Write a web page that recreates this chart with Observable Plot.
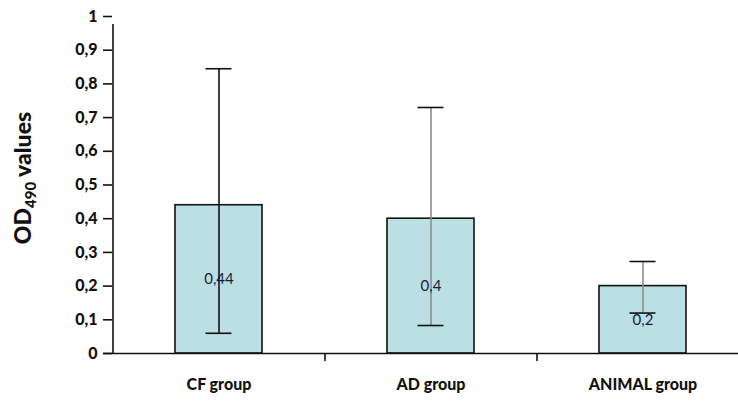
<!DOCTYPE html>
<html>
<head>
<meta charset="utf-8">
<script src="https://cdn.jsdelivr.net/npm/d3@7"></script>
<script src="https://cdn.jsdelivr.net/npm/@observablehq/plot@0.6"></script>
<style>
  html, body { margin: 0; padding: 0; background: #fff; }
</style>
</head>
<body>
<div id="chart"></div>
<script>
const categories = ["CF group", "AD group", "ANIMAL group"];
const means = [0.44, 0.4, 0.2];
const errLow = [0.06, 0.083, 0.12];
const errHigh = [0.845, 0.73, 0.273];
const valueLabels = ["0,44", "0,4", "0,2"];
const yTicks = [0, 0.1, 0.2, 0.3, 0.4, 0.5, 0.6, 0.7, 0.8, 0.9, 1];
const yTickLabels = ["0", "0,1", "0,2", "0,3", "0,4", "0,5", "0,6", "0,7", "0,8", "0,9", "1"];

const data = categories.map((c, i) => ({
  group: c, mean: means[i], lo: errLow[i], hi: errHigh[i], label: valueLabels[i]
}));

const FONT = "Lato, 'Open Sans', sans-serif";
const errStroke = d => d.group === categories[0] ? "#111" : "#8c8c8c";

const plot = Plot.plot({
  width: 738,
  height: 406,
  marginTop: 16,
  marginBottom: 53,
  marginLeft: 112,
  marginRight: 0,
  style: { fontFamily: FONT, background: "#fff", color: "#111" },
  x: { domain: categories, range: [112, 748], paddingInner: 0.59, paddingOuter: 0.295, label: null },
  y: { domain: [0, 1], label: null },
  marks: [
    Plot.barY(data, { x: "group", y: "mean", fill: "#bae0e3", stroke: "#111", strokeWidth: 1.6 }),
    Plot.ruleX(data, { x: "group", y1: "lo", y2: "hi", stroke: errStroke, strokeWidth: 1.6 }),
    Plot.tickY(data, { x: "group", y: "hi", stroke: "#111", strokeWidth: 1.6, insetLeft: 30.5, insetRight: 30.5 }),
    Plot.tickY(data, { x: "group", y: "lo", stroke: "#111", strokeWidth: 1.6, insetLeft: 30.5, insetRight: 30.5 }),
    Plot.text(data, { x: "group", y: d => d.mean / 2, text: "label", fontSize: 15, fill: "#1a1a3a", fontFamily: FONT }),
    // x axis line
    Plot.ruleY([0], { stroke: "#111", strokeWidth: 1.6, insetLeft: -9 }),
    // y axis line
    Plot.ruleX([categories[0]], { x: d => d, y1: 0, y2: 1, dx: -106, stroke: "#111", strokeWidth: 1.6, insetBottom: -8 }),
    // category boundary ticks
    Plot.ruleX(categories.slice(1), { x: d => d, y1: 0, y2: 0, dx: -106, stroke: "#111", strokeWidth: 1.6, insetBottom: -8 }),
    Plot.axisY({
      ticks: yTicks,
      tickFormat: d => yTickLabels[yTicks.indexOf(d)],
      tickSize: 9,
      tickPadding: 6,
      fontSize: 16,
      fontWeight: 900,
      strokeWidth: 1.6,
      label: null
    }),
    Plot.axisX({
      tickSize: 0,
      tickPadding: 25,
      fontSize: 16,
      fontWeight: 900,
      label: null
    })
  ]
});

document.getElementById("chart").appendChild(plot);

// Y-axis title with subscript
const svg = d3.select(plot);
const t = svg.append("text")
  .attr("transform", "translate(31,178) rotate(-90)")
  .attr("text-anchor", "middle")
  .attr("font-family", FONT)
  .attr("font-weight", 900)
  .attr("font-size", 23)
  .attr("fill", "#111");
t.append("tspan").text("OD");
t.append("tspan").attr("font-size", 15).attr("dy", 5).text("490");
t.append("tspan").attr("dy", -5).text(" values");
</script>
</body>
</html>
